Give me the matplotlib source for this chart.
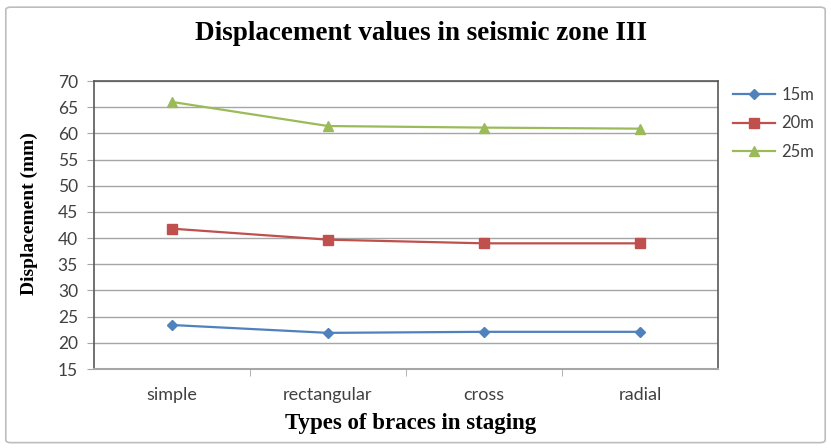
import numpy as np
import matplotlib.pyplot as plt
from matplotlib.patches import FancyBboxPatch

categories = ["simple", "rectangular", "cross", "radial"]
d15 = [23.4, 21.9, 22.1, 22.1]
d20 = [41.8, 39.7, 39.0, 39.0]
d25 = [66.0, 61.4, 61.1, 60.9]
series_names = ["15m", "20m", "25m"]
yticks = list(range(15, 75, 5))

W, H = 831, 448
fig = plt.figure(figsize=(W / 100, H / 100), dpi=100)
ax = fig.add_axes([94 / W, 1 - 369 / H, 624 / W, 288 / H])

# outer chart frame
fig.patches.append(FancyBboxPatch((0.007, 0.012), 0.986, 0.972, boxstyle="round,pad=0,rounding_size=0.006",
                                  transform=fig.transFigure, fill=False, edgecolor="#bdbdbd", linewidth=1.2))

x = np.arange(len(categories))
ax.plot(x, d15, color="#4F81BD", marker="D", markersize=5.5, linewidth=1.6, label=series_names[0])
ax.plot(x, d20, color="#C0504D", marker="s", markersize=6.5, linewidth=1.6, label=series_names[1])
ax.plot(x, d25, color="#9BBB59", marker="^", markersize=7, linewidth=1.6, label=series_names[2])

ax.set_xlim(-0.5, 3.5)
ax.set_ylim(15, 70)
ax.set_yticks(yticks)
ax.yaxis.grid(True, color="#a6a6a6", linewidth=1)
ax.set_axisbelow(True)

ax.set_xticks(x)
ax.set_xticklabels(categories)
ax.set_xticks([0.5, 1.5, 2.5], minor=True)
ax.tick_params(axis="x", which="major", length=0, pad=13)
ax.tick_params(axis="x", which="minor", length=5, color="#a6a6a6")
ax.tick_params(axis="y", length=5, color="#a6a6a6", pad=6.5)
for lab in ax.get_xticklabels():
    lab.set_fontfamily("Lato")
    lab.set_fontsize(13)
    lab.set_color("#404040")
for lab in ax.get_yticklabels():
    lab.set_fontfamily("Lato")
    lab.set_fontsize(12.5)
    lab.set_color("#404040")

for side in ["left", "top", "right"]:
    ax.spines[side].set_color("#595959")
    ax.spines[side].set_linewidth(1.2)
ax.spines["bottom"].set_color("#a6a6a6")
ax.spines["bottom"].set_linewidth(1.5)

fig.text(421 / W, 1 - 34 / H, "Displacement values in seismic zone III", ha="center", va="center",
         fontsize=19.5, fontweight="bold", family="Liberation Serif")
fig.text(411 / W, 1 - 423 / H, "Types of braces in staging", ha="center", va="center",
         fontsize=16.5, fontweight="bold", family="Liberation Serif")
fig.text(29 / W, 1 - 214 / H, "Displacement (mm)", ha="center", va="center", rotation=90,
         fontsize=14, fontweight="bold", family="Liberation Serif")

leg = fig.legend(loc="upper left", bbox_to_anchor=(733 / W, 1 - 87 / H), frameon=False,
                 prop={"family": "Lato", "size": 12}, handlelength=2.5, handletextpad=0.4,
                 labelspacing=0.75, borderpad=0, borderaxespad=0)
for t in leg.get_texts():
    t.set_color("#404040")

fig.savefig("out.png", dpi=100)
